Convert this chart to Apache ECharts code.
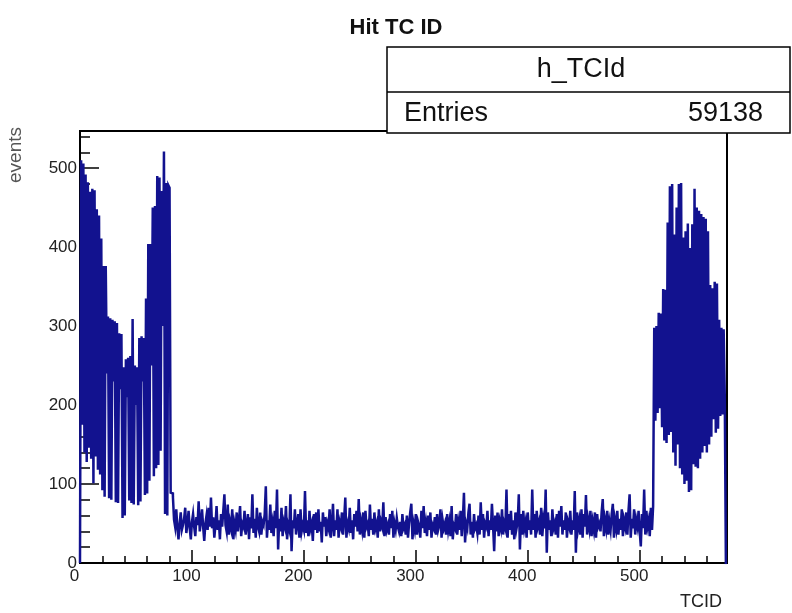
<!DOCTYPE html>
<html>
<head>
<meta charset="utf-8">
<script src="https://cdn.jsdelivr.net/npm/echarts@6/dist/echarts.min.js"></script>
<style>
  html, body { margin: 0; padding: 0; background: #ffffff; }
  #chart { width: 792px; height: 613px; }
</style>
</head>
<body>
<div id="chart"></div>
<script>
// Hits per trigger cell, TC IDs 1..576
// forward endcap: TC 1-80
const endcapFwd = [
  510, 175, 506, 140, 492, 128, 482, 146, 470, 132,
  474, 101, 472, 135, 448, 118, 440, 112, 411, 92,
  376, 84, 376, 240, 312, 82, 310, 80, 308, 230,
  306, 77, 304, 76, 291, 220, 290, 57, 248, 60,
  258, 210, 260, 79, 262, 76, 309, 74, 250, 200,
  248, 73, 285, 78, 287, 230, 285, 86, 335, 88,
  404, 104, 404, 250, 450, 110, 452, 120, 490, 124,
  488, 142, 471, 300, 521, 62, 481, 60, 478, 475
];
// barrel: TC 81-512 (36 rings of 12)
const barrel = [
  89, 88, 84, 55, 46, 68, 44, 30, 50, 64, 42, 48,
  56, 70, 38, 50, 66, 44, 30, 52, 62, 46, 34, 58,
  48, 78, 40, 52, 68, 46, 28, 50, 60, 42, 70, 46,
  83, 44, 58, 32, 48, 72, 42, 54, 30, 62, 46, 66,
  87, 48, 40, 74, 36, 52, 44, 68, 30, 50, 42, 64,
  40, 54, 72, 34, 50, 46, 66, 36, 48, 62, 30, 58,
  44, 87, 38, 56, 32, 70, 46, 40, 64, 36, 52, 48,
  62, 97, 32, 54, 42, 74, 38, 50, 34, 66, 44, 93,
  17, 56, 40, 70, 34, 52, 46, 72, 30, 48, 42, 87,
  15, 54, 44, 68, 36, 50, 62, 32, 68, 40, 48, 42,
  91, 38, 54, 34, 66, 44, 50, 28, 62, 42, 64, 38,
  68, 40, 52, 26, 64, 46, 58, 34, 50, 44, 68, 32,
  48, 75, 34, 54, 42, 68, 32, 52, 46, 64, 36, 56,
  83, 32, 50, 44, 70, 38, 54, 30, 62, 46, 66, 40,
  81, 36, 52, 42, 64, 32, 66, 46, 50, 34, 74, 42,
  56, 36, 64, 44, 50, 32, 68, 40, 52, 46, 77, 34,
  58, 42, 48, 36, 62, 44, 66, 32, 50, 42, 57, 46,
  40, 52, 34, 62, 44, 48, 36, 60, 32, 50, 64, 75,
  30, 50, 42, 62, 36, 52, 46, 32, 66, 44, 72, 38,
  50, 34, 60, 42, 64, 32, 48, 44, 58, 36, 62, 42,
  48, 68, 32, 54, 44, 50, 36, 62, 42, 52, 34, 72,
  30, 48, 44, 62, 36, 52, 42, 66, 34, 54, 89, 26,
  50, 44, 64, 75, 36, 52, 32, 62, 44, 48, 38, 60,
  36, 77, 42, 62, 32, 50, 46, 66, 34, 54, 42, 75,
  48, 15, 60, 40, 64, 34, 52, 44, 68, 36, 50, 44,
  93, 32, 62, 42, 66, 36, 54, 30, 64, 44, 52, 87,
  17, 62, 36, 66, 44, 52, 32, 64, 42, 54, 36, 93,
  42, 62, 32, 66, 46, 52, 36, 70, 34, 54, 44, 93,
  13, 64, 42, 54, 34, 68, 44, 50, 36, 62, 32, 66,
  46, 72, 36, 54, 42, 64, 32, 52, 46, 66, 36, 54,
  42, 91, 13, 64, 44, 54, 36, 68, 32, 62, 46, 86,
  36, 54, 44, 66, 34, 52, 42, 64, 32, 62, 46, 50,
  40, 64, 81, 34, 54, 44, 66, 36, 52, 42, 62, 75,
  32, 54, 44, 66, 36, 56, 42, 68, 34, 54, 46, 64,
  36, 66, 87, 32, 56, 44, 68, 36, 54, 46, 66, 40,
  21, 62, 44, 93, 36, 66, 46, 54, 34, 70, 42, 72
];
// backward endcap: TC 513-576
const endcapBwd = [
  298, 180, 300, 190, 317, 196, 316, 172,
  347, 155, 346, 152, 431, 162, 477, 166,
  480, 140, 416, 123, 450, 150, 480, 120,
  481, 112, 412, 100, 420, 104, 430, 90,
  399, 92, 429, 125, 474, 122, 450, 120,
  446, 132, 442, 140, 438, 148, 436, 140,
  420, 150, 352, 160, 348, 182, 356, 165,
  354, 170, 308, 186, 298, 188, 296, 212
];

const xMajorTicks = [0, 100, 200, 300, 400, 500];
const yMajorTicks = [0, 100, 200, 300, 400, 500];
const histName = 'h_TCId';
const entriesCount = 59138;
const titleText = 'Hit TC ID';

const X_MAX = 578;
const Y_MAX = 547;
const FONT = '"Liberation Sans", Arial, Helvetica, sans-serif';

// minor ticks every 20 units
const xMinorTicks = [];
for (let v = 20; v < X_MAX; v += 20) if (v % 100 !== 0) xMinorTicks.push(v);
const yMinorTicks = [];
for (let v = 20; v < Y_MAX; v += 20) if (v % 100 !== 0) yMinorTicks.push(v);

// one bin per TC: bin k spans [k, k+1)
const counts = endcapFwd.concat(barrel, endcapBwd);
const steps = [[0, 0]];
counts.forEach((v, i) => steps.push([i + 1, v]));
steps.push([counts.length + 1, 0]);
steps.push([X_MAX, 0]);

const chart = echarts.init(document.getElementById('chart'), null, { renderer: 'canvas' });

const GRID = { left: 80, top: 131, width: 647, height: 432 };
const BLACK = '#000000';

chart.setOption({
  animation: false,
  backgroundColor: '#ffffff',
  grid: {
    left: GRID.left, top: GRID.top, width: GRID.width, height: GRID.height,
    show: true, borderColor: BLACK, borderWidth: 2, backgroundColor: 'transparent'
  },
  xAxis: [
    {
      type: 'value', min: 0, max: X_MAX, position: 'bottom',
      axisLine: { show: true, onZero: false, lineStyle: { color: BLACK, width: 2 } },
      axisTick: { show: true, inside: true, length: 13, customValues: xMajorTicks,
                  lineStyle: { color: BLACK, width: 1.5 } },
      axisLabel: { customValues: xMajorTicks, margin: 5, fontSize: 17, color: '#222',
                   fontFamily: FONT, padding: [0, 11, 0, 0] },
      splitLine: { show: false }
    },
    {
      type: 'value', min: 0, max: X_MAX, position: 'bottom',
      axisLine: { show: false, onZero: false },
      axisTick: { show: true, inside: true, length: 7, customValues: xMinorTicks,
                  lineStyle: { color: BLACK, width: 1.5 } },
      axisLabel: { show: false },
      splitLine: { show: false }
    }
  ],
  yAxis: [
    {
      type: 'value', min: 0, max: Y_MAX, position: 'left',
      axisLine: { show: true, onZero: false, lineStyle: { color: BLACK, width: 2 } },
      axisTick: { show: true, inside: true, length: 19, customValues: yMajorTicks,
                  lineStyle: { color: BLACK, width: 1.5 } },
      axisLabel: { customValues: yMajorTicks, margin: 3, fontSize: 17, color: '#222',
                   fontFamily: FONT },
      splitLine: { show: false }
    },
    {
      type: 'value', min: 0, max: Y_MAX, position: 'left',
      axisLine: { show: false, onZero: false },
      axisTick: { show: true, inside: true, length: 10, customValues: yMinorTicks,
                  lineStyle: { color: BLACK, width: 1.5 } },
      axisLabel: { show: false },
      splitLine: { show: false }
    }
  ],
  series: [{
    name: histName,
    type: 'line',
    xAxisIndex: 0,
    yAxisIndex: 0,
    data: steps,
    step: 'end',
    showSymbol: false,
    symbol: 'none',
    silent: true,
    clip: true,
    lineStyle: { color: '#12128f', width: 2.5, join: 'miter' }
  }],
  graphic: [
    {
      type: 'text', left: 'center', top: 17, z: 10,
      style: { text: titleText, font: 'bold 22px ' + FONT, fill: '#111' }
    },
    {
      type: 'group', z: 10,
      children: [
        { type: 'rect', shape: { x: 387, y: 47, width: 403, height: 86 },
          style: { fill: '#ffffff', stroke: BLACK, lineWidth: 1.5 } },
        { type: 'line', shape: { x1: 387, y1: 92, x2: 790, y2: 92 },
          style: { stroke: BLACK, lineWidth: 1.5 } },
        { type: 'text', x: 581, y: 70,
          style: { text: histName, font: '27px ' + FONT, fill: '#111',
                   textAlign: 'center', textVerticalAlign: 'middle' } },
        { type: 'text', x: 404, y: 114,
          style: { text: 'Entries', font: '27px ' + FONT, fill: '#111',
                   textAlign: 'left', textVerticalAlign: 'middle' } },
        { type: 'text', x: 763, y: 114,
          style: { text: String(entriesCount), font: '27px ' + FONT, fill: '#111',
                   textAlign: 'right', textVerticalAlign: 'middle' } }
      ]
    },
    {
      type: 'text', x: 16, y: 127, rotation: Math.PI / 2, z: 10,
      style: { text: 'events', font: '19px ' + FONT, fill: '#555',
               textAlign: 'right', textVerticalAlign: 'middle' }
    },
    {
      type: 'text', x: 722, y: 602, z: 10,
      style: { text: 'TCID', font: '18px ' + FONT, fill: '#222',
               textAlign: 'right', textVerticalAlign: 'middle' }
    }
  ]
});
</script>
</body>
</html>
